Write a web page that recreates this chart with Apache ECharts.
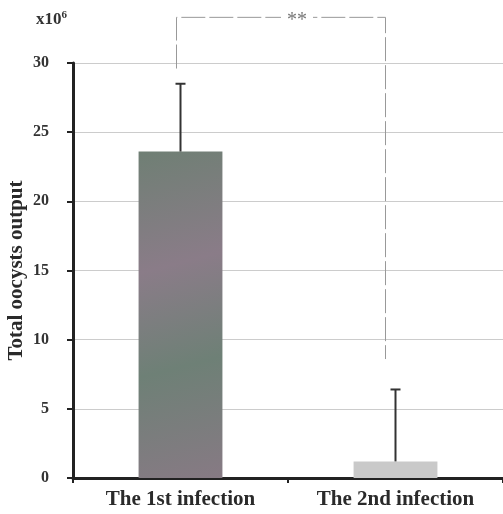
<!DOCTYPE html>
<html>
<head>
<meta charset="utf-8">
<script src="https://cdn.jsdelivr.net/npm/echarts@6/dist/echarts.min.js"></script>
<style>
  html, body { margin: 0; padding: 0; background: #fff; }
  #chart { width: 503px; height: 514px; }
</style>
</head>
<body>
<div id="chart"></div>
<script>
// Data (units: x10^6 oocysts)
const categories = ['The 1st infection', 'The 2nd infection'];
const means = [23.6, 1.2];
const errors = [4.9, 5.2];
const yTicks = [0, 5, 10, 15, 20, 25, 30];

// Significance bracket (in axis values)
const bracketTop = 33.3;
const bracketLeftBottom = 29.6;
const bracketRightBottom = 8.6;
const bracketLabel = '**';

const serif = '"Liberation Serif", "DejaVu Serif", serif';

const chart = echarts.init(document.getElementById('chart'));

const option = {
    animation: false,
    grid: { left: 73, right: 0, top: 63, bottom: 36, outerBoundsMode: 'none', containLabel: false },
    xAxis: {
        type: 'category',
        data: categories,
        axisLine: { lineStyle: { color: '#222', width: 3 } },
        axisTick: { show: true, length: 5, lineStyle: { color: '#222', width: 2 } },
        axisLabel: { color: '#2a2a2a', fontFamily: serif, fontSize: 21, fontWeight: 'bold', margin: 11 }
    },
    yAxis: {
        type: 'value',
        min: 0,
        max: 30,
        interval: 5,
        name: 'Total oocysts output',
        nameLocation: 'middle',
        nameGap: 46,
        nameMoveOverlap: false,
        nameTextStyle: { color: '#2a2a2a', fontFamily: serif, fontSize: 21, fontWeight: 'bold' },
        axisLine: { show: true, lineStyle: { color: '#222', width: 3 } },
        axisTick: { show: true, length: 6, lineStyle: { color: '#222', width: 2 } },
        axisLabel: {
            color: '#333', fontFamily: serif, fontSize: 16, fontWeight: 'bold', margin: 24,
            formatter: v => yTicks.includes(v) ? String(v) : ''
        },
        splitLine: { lineStyle: { color: '#ccc', width: 1 } }
    },
    series: [
        {
            type: 'bar',
            barWidth: '39%',
            data: means.map((v, i) => ({
                value: v,
                itemStyle: {
                    color: i === 0
                        ? new echarts.graphic.LinearGradient(0, 0, 1, 1, [
                            { offset: 0, color: '#6f7f74' },
                            { offset: 0.35, color: '#8a7c88' },
                            { offset: 0.65, color: '#6e8076' },
                            { offset: 1, color: '#877a84' }
                        ])
                        : '#c9c9c9'
                }
            }))
        },
        {
            type: 'custom',
            z: 5,
            data: means.map((m, i) => [i, m, m + errors[i]]),
            renderItem: function (params, api) {
                const base = api.coord([api.value(0), api.value(1)]);
                const top = api.coord([api.value(0), api.value(2)]);
                const cap = 5;
                return {
                    type: 'group',
                    children: [
                        { type: 'line', shape: { x1: base[0], y1: base[1], x2: top[0], y2: top[1] },
                          style: { stroke: '#333', lineWidth: 2 } },
                        { type: 'line', shape: { x1: top[0] - cap, y1: top[1], x2: top[0] + cap, y2: top[1] },
                          style: { stroke: '#333', lineWidth: 2 } }
                    ]
                };
            }
        }
    ],
    graphic: [
        {
            type: 'text',
            left: 36,
            top: 10,
            style: {
                text: '{b|x10}{s|6}',
                rich: {
                    b: { fontFamily: serif, fontSize: 17, fontWeight: 'bold', fill: '#333' },
                    s: { fontFamily: serif, fontSize: 11, fontWeight: 'bold', fill: '#333', verticalAlign: 'top', padding: [0, 0, 9, 0] }
                }
            }
        }
    ]
};

chart.setOption(option);

// Draw the significance bracket from axis coordinates
function drawBracket() {
    const pL = chart.convertToPixel({ gridIndex: 0 }, [0, bracketTop]);
    const pR = chart.convertToPixel({ gridIndex: 0 }, [1, bracketTop]);
    const pLB = chart.convertToPixel({ gridIndex: 0 }, [0, bracketLeftBottom]);
    const pRB = chart.convertToPixel({ gridIndex: 0 }, [1, bracketRightBottom]);
    const lineStyle = { stroke: '#999', lineWidth: 1, lineDash: [24, 4] };
    const xl = pL[0] - 4, xr = pR[0] - 10;
    const mid = (xl + xr) / 2 + 16;
    chart.setOption({
        graphic: [
            option.graphic[0],
            { type: 'polyline', shape: { points: [[xl, pLB[1]], [xl, pL[1]], [xr, pR[1]], [xr, pRB[1]]] },
              style: Object.assign({ fill: null }, lineStyle) },
            { type: 'rect', shape: { x: mid - 16, y: pL[1] - 8, width: 32, height: 14 },
              style: { fill: '#fff' } },
            { type: 'text', x: mid, y: pL[1] + 3,
              style: { text: bracketLabel, fontFamily: serif, fontSize: 20, fill: '#777',
                       align: 'center', verticalAlign: 'middle' } }
        ]
    }, { replaceMerge: ['graphic'] });
}
drawBracket();
</script>
</body>
</html>
